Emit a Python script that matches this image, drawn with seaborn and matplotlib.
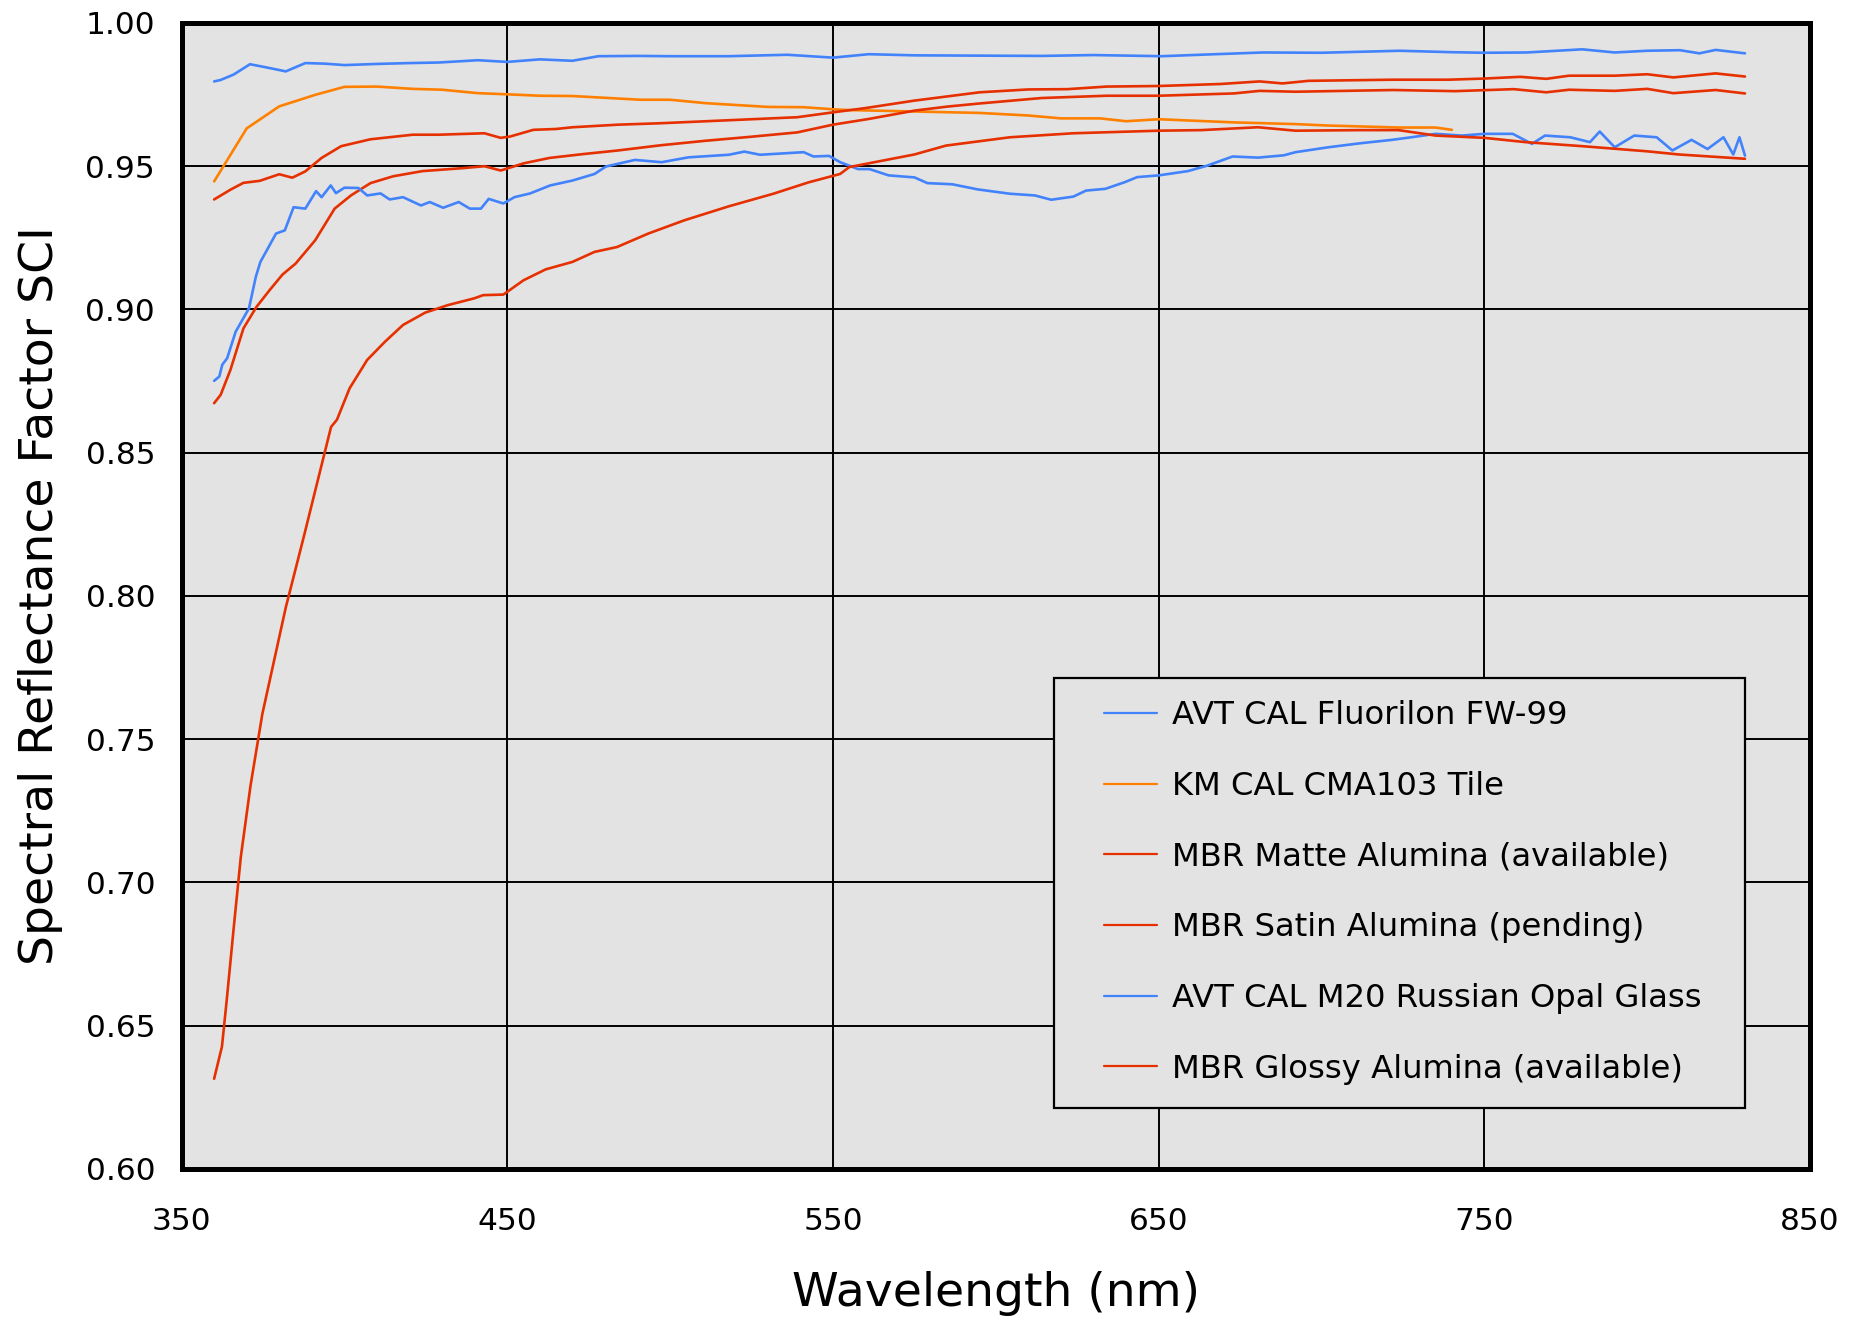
import pandas as pd
import matplotlib
matplotlib.use("Agg")
import matplotlib.pyplot as plt
from matplotlib.patches import Rectangle
import seaborn as sns

# Fluorilon FW-99 (top blue)
fw99_nm = [360, 362, 366, 371, 376, 382, 388, 394, 400, 410, 420, 429, 441, 450, 460, 470, 478,
           490, 500, 518, 536, 550, 561, 575, 594, 614, 630, 651, 665, 682, 700, 724, 740, 750,
           763, 780, 790, 800, 810, 816, 821, 830]
fw99_val = [0.9796, 0.9801, 0.9820, 0.9856, 0.9845, 0.9831, 0.9860, 0.9858, 0.9853, 0.9857, 0.9860,
            0.9862, 0.9870, 0.9864, 0.9873, 0.9868, 0.9884, 0.9885, 0.9884, 0.9884, 0.9889, 0.9879,
            0.9891, 0.9887, 0.9886, 0.9885, 0.9888, 0.9884, 0.9890, 0.9897, 0.9896, 0.9903, 0.9898,
            0.9896, 0.9897, 0.9908, 0.9897, 0.9903, 0.9905, 0.9894, 0.9906, 0.9894]

# KM CMA103 tile (orange)
cma_nm = [360, 370, 380, 391, 400, 410, 421, 430, 441, 450, 460, 470, 491, 500, 511, 530, 541,
          551, 555, 579, 595, 610, 620, 632, 640, 650, 673, 692, 702, 724, 735, 740]
cma_val = [0.9447, 0.9632, 0.9709, 0.9749, 0.9777, 0.9778, 0.9770, 0.9767, 0.9755, 0.9751, 0.9746,
           0.9745, 0.9732, 0.9732, 0.9720, 0.9707, 0.9706, 0.9698, 0.9696, 0.9690, 0.9686, 0.9677,
           0.9667, 0.9667, 0.9657, 0.9664, 0.9653, 0.9647, 0.9642, 0.9635, 0.9635, 0.9627]

# MBR matte alumina
matte_nm = [360, 365, 369, 374, 380, 384, 388, 393, 399, 408, 421, 429, 443, 448, 451, 458, 465,
            470, 484, 497, 511, 525, 539, 550, 560, 575, 595, 610, 622, 634, 650, 669, 681, 688,
            696, 722, 739, 750, 761, 769, 776, 790, 800, 808, 821, 830]
matte_val = [0.9384, 0.9418, 0.9442, 0.9449, 0.9472, 0.9460, 0.9482, 0.9529, 0.9570, 0.9594, 0.9610,
             0.9610, 0.9615, 0.9599, 0.9604, 0.9627, 0.9630, 0.9636, 0.9645, 0.9650, 0.9657, 0.9664,
             0.9671, 0.9688, 0.9703, 0.9729, 0.9758, 0.9768, 0.9769, 0.9778, 0.9780, 0.9787, 0.9796,
             0.9789, 0.9798, 0.9802, 0.9802, 0.9806, 0.9812, 0.9805, 0.9816, 0.9816, 0.9821, 0.9810,
             0.9824, 0.9813]

# MBR satin alumina
satin_nm = [360, 362, 365, 369, 373, 377, 381, 385, 391, 397, 402, 408, 415, 424, 436, 443, 448,
            455, 463, 473, 484, 497, 511, 525, 539, 550, 561, 575, 585, 595, 614, 634, 650, 673,
            681, 692, 722, 741, 759, 769, 776, 790, 800, 808, 821, 830]
satin_val = [0.8673, 0.8702, 0.8789, 0.8934, 0.9009, 0.9067, 0.9122, 0.9160, 0.9241, 0.9352, 0.9398,
             0.9441, 0.9465, 0.9483, 0.9493, 0.9500, 0.9485, 0.9510, 0.9529, 0.9542, 0.9555, 0.9573,
             0.9589, 0.9603, 0.9618, 0.9645, 0.9665, 0.9694, 0.9708, 0.9719, 0.9738, 0.9746, 0.9746,
             0.9754, 0.9763, 0.9760, 0.9766, 0.9762, 0.9769, 0.9758, 0.9767, 0.9763, 0.9770, 0.9755,
             0.9766, 0.9754]

# M20 Russian opal glass (lower blue)
opal_nm = [360, 361.6, 362.5, 364, 366.6, 370.7, 372.8, 374.2, 376.2, 379, 381.7, 384.4, 388, 391.3,
           393, 395.8, 397.4, 400, 404.3, 407, 411.1, 413.9, 418, 423.5, 426.2, 430.3, 435.1, 438.5,
           441.9, 444.3, 448.8, 452.2, 457, 463.2, 470, 476.8, 480.3, 489.2, 497.4, 505.6, 518,
           522.8, 527.6, 541, 544, 548.8, 552.2, 557.7, 561.2, 567.1, 575, 579, 586.6, 594.5, 604.3,
           612, 617, 623.8, 627.7, 633.6, 639.5, 643.4, 650, 659, 664.9, 672.7, 680.5, 688.4, 692,
           702, 711.8, 721.6, 727.5, 735, 743, 750, 758.7, 764.6, 768.6, 776.4, 782.4, 785.4, 790,
           796, 802.9, 807.7, 813.6, 818.5, 823.4, 826.4, 828.3, 830]
opal_val = [0.8751, 0.8766, 0.8807, 0.8830, 0.8922, 0.9004, 0.9114, 0.9166, 0.9207, 0.9265, 0.9276,
            0.9357, 0.9352, 0.9413, 0.9392, 0.9433, 0.9406, 0.9425, 0.9424, 0.9398, 0.9405, 0.9384,
            0.9392, 0.9363, 0.9375, 0.9355, 0.9375, 0.9352, 0.9352, 0.9386, 0.9370, 0.9392, 0.9405,
            0.9433, 0.9450, 0.9473, 0.9499, 0.9522, 0.9514, 0.9531, 0.9540, 0.9551, 0.9540, 0.9549,
            0.9534, 0.9536, 0.9514, 0.9490, 0.9490, 0.9468, 0.9461, 0.9441, 0.9437, 0.9419, 0.9404,
            0.9398, 0.9383, 0.9394, 0.9415, 0.9421, 0.9444, 0.9462, 0.9468, 0.9483, 0.9502, 0.9534,
            0.9530, 0.9538, 0.9549, 0.9566, 0.9580, 0.9592, 0.9601, 0.9613, 0.9607, 0.9613, 0.9613,
            0.9578, 0.9607, 0.9601, 0.9584, 0.9621, 0.9566, 0.9607, 0.9601, 0.9555, 0.9592, 0.9560,
            0.9601, 0.9541, 0.9601, 0.9537]

# MBR glossy alumina
glossy_nm = [360, 362.4, 363.9, 366, 368.2, 371.2, 374.8, 378.4, 382, 387.6, 391.2, 395.9, 397.7,
             401.6, 407, 412.5, 418, 424.8, 431.7, 439.9, 442.6, 448.8, 455, 461.8, 470, 476.8,
             483.7, 493.3, 504.3, 518, 531.7, 542.6, 552.2, 555, 575, 584.7, 604.3, 623.8, 650, 663,
             680.5, 692, 711.8, 723.6, 735, 750, 762.7, 780, 800, 809.7, 830]
glossy_val = [0.6315, 0.6427, 0.6593, 0.6840, 0.7090, 0.7340, 0.7588, 0.7774, 0.7960, 0.8210, 0.8375,
              0.8590, 0.8615, 0.8725, 0.8824, 0.8888, 0.8946, 0.8989, 0.9015, 0.9039, 0.9050, 0.9052,
              0.9102, 0.9140, 0.9166, 0.9201, 0.9218, 0.9265, 0.9311, 0.9360, 0.9404, 0.9444, 0.9473,
              0.9497, 0.9541, 0.9572, 0.9601, 0.9615, 0.9624, 0.9626, 0.9636, 0.9624, 0.9626, 0.9626,
              0.9607, 0.9599, 0.9584, 0.9570, 0.9552, 0.9541, 0.9526]

labels = ["AVT CAL Fluorilon FW-99", "KM CAL CMA103 Tile", "MBR Matte Alumina (available)",
          "MBR Satin Alumina (pending)", "AVT CAL M20 Russian Opal Glass",
          "MBR Glossy Alumina (available)"]
colors = ["#4283fb", "#ff8000", "#e63000", "#e63000", "#4283fb", "#e63000"]

series = [(fw99_nm, fw99_val), (cma_nm, cma_val), (matte_nm, matte_val),
          (satin_nm, satin_val), (opal_nm, opal_val), (glossy_nm, glossy_val)]
frames = []
for lab, (nm, val) in zip(labels, series):
    frames.append(pd.DataFrame({"nm": nm, "sci": val, "sample": lab}))
df = pd.concat(frames, ignore_index=True)

sns.set_theme(style="white")
plt.rcParams["font.family"] = ["DejaVu Sans"]

fig = plt.figure(figsize=(18.64, 13.2), dpi=100)
ax = fig.add_axes([0.0974, 0.1144, 0.8737, 0.8682])
ax.set_facecolor("#e3e3e3")

sns.lineplot(data=df, x="nm", y="sci", hue="sample", hue_order=labels,
             palette=dict(zip(labels, colors)), linewidth=1.9, errorbar=None,
             sort=True, ax=ax)

ax.set_xlim(350, 850)
ax.set_ylim(0.60, 1.00)
ax.set_xticks(range(350, 851, 100))
ax.set_yticks([0.60 + 0.05 * i for i in range(9)])
ax.set_yticklabels([f"{0.60 + 0.05 * i:.2f}" for i in range(9)])
ax.grid(True, color="black", linewidth=1.4)
ax.set_axisbelow(True)
for s in ax.spines.values():
    s.set_visible(True)
    s.set_color("black")
    s.set_linewidth(3.6)
    s.set_zorder(5)
ax.tick_params(axis="both", length=0, labelsize=22.5, colors="black")
ax.tick_params(axis="x", pad=27.5)
ax.tick_params(axis="y", pad=19)

ax.set_xlabel("Wavelength (nm)", fontsize=34, color="black")
ax.set_ylabel("Spectral Reflectance Factor SCI", fontsize=34, color="black")
ax.xaxis.set_label_coords(0.5, -0.089)
ax.yaxis.set_label_coords(-0.073, 0.5)

# legend box drawn separately so the padding matches the reference
box = Rectangle((0.5358, 0.0532), 0.9601 - 0.5358, 0.4284 - 0.0532, transform=ax.transAxes,
                facecolor="#e3e3e3", edgecolor="black", linewidth=1.6, zorder=4)
ax.add_patch(box)

leg = ax.legend(loc="center left", bbox_to_anchor=(0.5665, 0.2412), fontsize=23.2,
                frameon=False, handlelength=1.65, handletextpad=0.45,
                labelspacing=1.23, borderpad=0, borderaxespad=0, labelcolor="black")
leg.set_zorder(6)
for h in leg.get_lines():
    h.set_linewidth(1.6)

fig.savefig("out.png", dpi=100)
